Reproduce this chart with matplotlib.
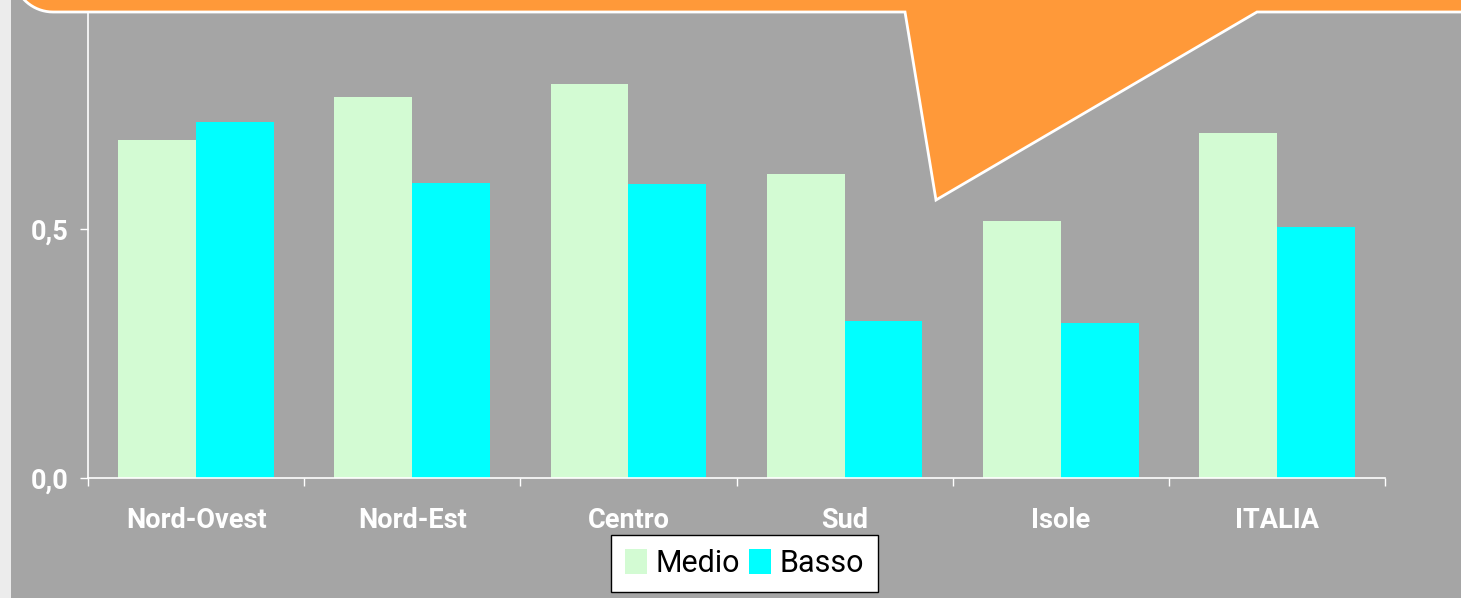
import numpy as np
import matplotlib
matplotlib.use("Agg")
import matplotlib.pyplot as plt
import matplotlib.transforms as mtransforms
from matplotlib.patches import Polygon, Rectangle

# data
regions = ['Nord-Ovest', 'Nord-Est', 'Centro', 'Sud', 'Isole', 'ITALIA']
medio = [0.679, 0.765, 0.791, 0.610, 0.516, 0.693]
basso = [0.715, 0.592, 0.591, 0.315, 0.311, 0.504]
y_ticks = [0.0, 0.5]
y_labels = ['0,0', '0,5']

W, H = 1461, 598
bg = '#a5a5a5'
orange = '#ff9939'
col_medio = '#d3fbd3'
col_basso = '#00ffff'
font = ['Roboto', 'DejaVu Sans']

fig = plt.figure(figsize=(W / 100, H / 100), dpi=100)
fig.patch.set_facecolor(bg)

# axes placed in pixel terms (top goes beyond the figure, hidden by the banner)
left, right, bottom, top = 88, 1385, 478, -20
ax = fig.add_axes([left / W, 1 - bottom / H, (right - left) / W, (bottom - top) / H])
ax.set_facecolor(bg)

x = np.arange(len(regions))
bw = 0.36
ax.bar(x - bw / 2, medio, bw, color=col_medio, label='Medio')
ax.bar(x + bw / 2, basso, bw, color=col_basso, label='Basso')

ax.set_xlim(-0.5, len(regions) - 0.5)
ax.set_ylim(0, 1.0)

for s in ['top', 'right']:
    ax.spines[s].set_visible(False)
for s in ['left', 'bottom']:
    ax.spines[s].set_color('white')
    ax.spines[s].set_linewidth(1.2)

ax.set_yticks(y_ticks)
ax.set_yticklabels(y_labels)
ax.tick_params(axis='y', colors='white', length=6, width=1, pad=8)

ax.set_xticks(x)
ax.set_xticklabels(regions)
ax.set_xticks(np.arange(len(regions) + 1) - 0.5, minor=True)
ax.tick_params(axis='x', which='major', length=0, pad=21, colors='white')
ax.tick_params(axis='x', which='minor', length=6, width=1, colors='white')

for lab in ax.get_xticklabels() + ax.get_yticklabels():
    lab.set_family(font)
    lab.set_fontweight('bold')
    lab.set_fontsize(19.5)
    lab.set_color('white')

# pixel transform, origin at top-left
px = mtransforms.Affine2D().scale(1 / W, -1 / H).translate(0, 1) + fig.transFigure

# light strip at the left edge
fig.add_artist(Rectangle((0, 0), 11, H, transform=px, facecolor='#ececec',
                         edgecolor='none', zorder=2))

# orange banner with callout
t = np.linspace(0, np.pi / 2, 20)
corner = np.column_stack([53 - 40 * np.cos(t), -28 + 40 * np.sin(t)])
pts = np.vstack([[[13, -40]], corner,
                 [[905, 12], [936, 200], [1257, 12], [W + 20, 12], [W + 20, -40]]])
fig.add_artist(Polygon(pts, closed=True, transform=px, facecolor=orange,
                       edgecolor='white', linewidth=2, zorder=3))

leg = fig.legend(loc='center', bbox_to_anchor=(744.5 / W, 1 - 563.5 / H), ncol=2,
                 prop={'family': font, 'size': 22}, frameon=True, fancybox=False,
                 edgecolor='black', facecolor='white', framealpha=1,
                 handlelength=0.72, handleheight=0.9, handletextpad=0.28,
                 columnspacing=0.3, borderpad=0.45, borderaxespad=0)
leg.get_frame().set_linewidth(1)
leg.set_zorder(5)

fig.savefig('out.png', dpi=100, facecolor=fig.get_facecolor())
